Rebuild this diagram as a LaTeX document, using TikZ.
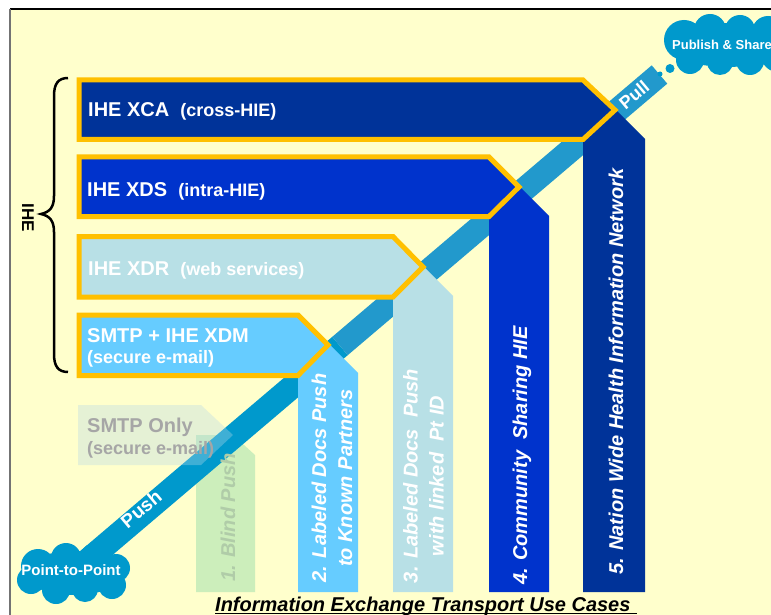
\documentclass[tikz,border=0pt]{standalone}
\usepackage{fontspec}
\setmainfont{Liberation Sans}
\usepackage{tikz}
\definecolor{paper}{HTML}{FFFFCC}
\definecolor{navy}{HTML}{003399}
\definecolor{royal}{HTML}{0033CC}
\definecolor{pale}{HTML}{B8E0E6}
\definecolor{sky}{HTML}{66CCFF}
\definecolor{mint}{HTML}{CCEEBB}
\definecolor{mintdark}{HTML}{B0CCA8}
\definecolor{amber}{HTML}{FFC000}
\definecolor{pushblue}{HTML}{0099CC}
\definecolor{pullblue}{HTML}{2299CC}
\definecolor{haze}{RGB}{183,217,232}
\tikzstyle{uc}=[draw=amber, line width=5pt, line join=miter]
\tikzstyle{btxt}=[inner sep=0pt, anchor=base west, text=white, font=\bfseries\fontsize{20}{24}\selectfont]
\tikzstyle{ctxt}=[inner sep=0pt, rotate=90, text=white, align=center, font=\bfseries\itshape\fontsize{20}{26}\selectfont]
\tikzstyle{band}=[line width=24pt, line cap=butt]
\tikzstyle{ctext}=[inner sep=0pt, text=white, font=\bfseries\fontsize{13}{15}\selectfont]
\newcommand{\subsize}{\fontsize{18}{21}\selectfont}

\begin{document}
\begin{tikzpicture}[x=1pt, y=-1pt]
\useasboundingbox (0,0) rectangle (771,615);
% the page
\fill[white] (0,0) rectangle (771,615);
\fill[paper] (10,9) rectangle (771,615);
\draw[line width=1.5pt] (10,9) -- (771,9);
\draw[line width=1.5pt, black!55] (10,9) -- (10,615);
% the blind push column, under the band
\fill[mint] (196,592) -- (196,435) -- (233,435) -- (255,455) -- (255,592) -- cycle;
% the band, push below and pull above
\coordinate (P2Pc) at (74,572);
\coordinate (BM) at (340,346);
\coordinate (BT) at (659.5,74.5);
\draw[band, pushblue] (P2Pc) -- (BM);
\draw[band, pullblue] (BM) -- (BT);
% the smtp only box
\fill[haze, opacity=.35] (78,405) -- (201,405) -- (233,435) -- (201,465) -- (78,465) -- cycle;
% the use case columns
\fill[sky] (298,592) -- (298,345) -- (330,345) -- (358,373) -- (358,592) -- cycle;
\fill[pale] (393,592) -- (393,267) -- (424,267) -- (453,296) -- (453,592) -- cycle;
\fill[royal] (489,592) -- (489,187) -- (520,187) -- (549,216) -- (549,592) -- cycle;
\fill[navy] (583,592) -- (583,110) -- (616,110) -- (645,139) -- (645,592) -- cycle;
% the IHE boxes
\filldraw[uc, fill=sky] (79,315) -- (298,315) -- (328,345) -- (298,375.5) -- (79,375.5) -- cycle;
\filldraw[uc, fill=pale] (79,236.5) -- (393,236.5) -- (423,267) -- (393,297) -- (79,297) -- cycle;
\filldraw[uc, fill=royal] (79,157) -- (489,157) -- (519,187) -- (489,216.5) -- (79,216.5) -- cycle;
\filldraw[uc, fill=navy] (79,80) -- (583,80) -- (615,110) -- (583,139.5) -- (79,139.5) -- cycle;
% the box labels
\node[btxt] (B4) at (88,117) {IHE XCA~ {\subsize(cross-HIE)}};
\node[btxt] (B3) at (87,196) {IHE XDS~ {\subsize(intra-HIE)}};
\node[btxt] (B2) at (88,275) {IHE XDR~ {\subsize(web services)}};
\node[btxt] (B1) at (87,342.5) {SMTP + IHE XDM};
\node[btxt, font=\bfseries\subsize] (B1s) at (87,363.5) {(secure e-mail)};
\node[btxt, text=black!35] (B0) at (87,432) {SMTP Only};
\node[btxt, text=black!35, font=\bfseries\subsize] (B0s) at (87,454) {(secure e-mail)};
% the column labels
\node[ctxt, anchor=base west, text=mintdark] (U1) at (235,582) {1. Blind Push};
\node[ctxt] (U2) at (332,478) {2. Labeled Docs Push\\to Known Partners};
\node[ctxt] (U3) at (423.5,476) {3. Labeled Docs~ Push\\with linked~ Pt ID};
\node[ctxt, anchor=base west] (U4) at (527,585) {4. Community~ Sharing HIE};
\node[ctxt, anchor=base west] (U5) at (623,575) {5. Nation Wide Health Information Network};
% the clouds
\fill[pushblue] (74,573) ellipse[x radius=50pt, y radius=22pt]
  (38,566) circle[radius=17pt] (66,558) circle[radius=15pt] (95,558) circle[radius=15pt]
  (116,568) circle[radius=14pt] (112,585) circle[radius=14pt] (85,589) circle[radius=13pt]
  (56,590) circle[radius=14pt] (31,580) circle[radius=14pt];
\fill[pushblue] (727,45) ellipse[x radius=58pt, y radius=22pt]
  (684,40) circle[radius=20pt] (710,30) circle[radius=16pt] (740,30) circle[radius=15pt]
  (768,32) circle[radius=16pt] (690,60) circle[radius=14pt] (720,62) circle[radius=13pt]
  (750,61) circle[radius=14pt] (778,55) circle[radius=17pt];
\fill[pushblue] (660,74) circle[radius=2.5pt];
\fill[pushblue] (670,68.5) circle[radius=4.5pt];
\node[ctext, font=\bfseries\fontsize{15}{17}\selectfont] (P2P) at (71,570) {Point-to-Point};
\node[ctext] (PS) at (722,45) {Publish \& Share};
\node[ctext, font=\bfseries\fontsize{19}{21}\selectfont, rotate=40] (push) at (141,509) {Push};
\node[ctext, font=\bfseries\fontsize{18}{20}\selectfont, rotate=40] (pull) at (634,95) {Pull};
% the IHE brace
\draw[line width=2.5pt] (68,78) .. controls (58,78) and (54,84) .. (54,96) -- (54,196) .. controls (54,207) and (50,212) .. (41,214) .. controls (50,216) and (54,221) .. (54,232) -- (54,354) .. controls (54,366) and (58,372) .. (68,372);
\node[inner sep=0pt, rotate=-90, font=\bfseries\fontsize{17}{20}\selectfont] (ihe) at (28,218) {IHE};
% the caption
\node[inner sep=0pt, anchor=base west, font=\bfseries\itshape\fontsize{20}{24}\selectfont] (title) at (215,611) {Information Exchange Transport Use Cases};
\draw[line width=1.5pt] ([yshift=-2.5pt]title.base west) -- ([yshift=-2.5pt, xshift=6pt]title.base east);
\end{tikzpicture}
\end{document}
